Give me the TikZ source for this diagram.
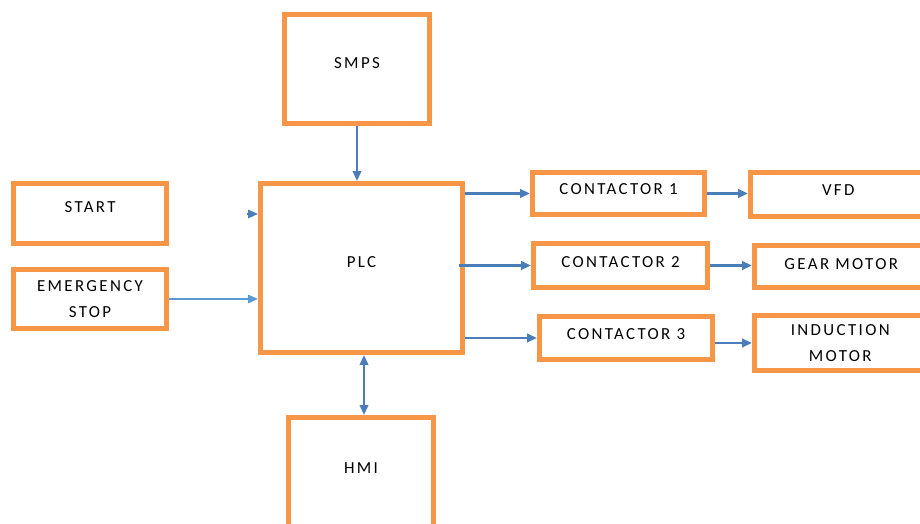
\documentclass[tikz,border=0pt]{standalone}
\usepackage{fontspec}
\setmainfont[LetterSpace=14]{Carlito}
\usetikzlibrary{arrows.meta}

\definecolor{boxorange}{HTML}{F79646}
\definecolor{linkblue}{HTML}{4A7EBB}
\definecolor{lightlink}{HTML}{5B9BD5}

\tikzset{
  block/.style={draw=boxorange, line width=3.6pt, fill=white, align=center,
    font=\fontsize{12}{18}\selectfont},
  raised/.style={text depth=#1},
  raised/.default=9pt,
  link/.style={draw=linkblue, line width=2pt, -{Triangle[length=7pt,width=6pt]}},
}

\begin{document}
\begin{tikzpicture}[x=0.025cm, y=-0.025cm]
  \useasboundingbox (0,0) rectangle (920,524);
  \clip (0,0) rectangle (920,524);

  \node[block, raised, minimum width=3.625cm, minimum height=2.725cm] (smps) at (357,69) {SMPS};
  \node[block, raised, minimum width=3.825cm, minimum height=1.5cm] (start) at (90,213.5) {START};
  \node[block, minimum width=3.825cm, minimum height=1.475cm] (estop) at (90,299) {EMERGENCY\\STOP};
  \node[block, raised, minimum width=5.05cm, minimum height=4.225cm] (plc) at (361.5,268) {PLC};
  \node[block, raised, minimum width=3.625cm, minimum height=2.825cm] (hmi) at (361,474) {HMI};

  \node[block, raised=6pt, minimum width=4.3cm, minimum height=1.05cm] (c1) at (618.5,193.5) {CONTACTOR 1};
  \node[block, raised=5pt, minimum width=4.35cm, minimum height=1.1cm] (c2) at (620.5,265.5) {CONTACTOR 2};
  \node[block, raised=5pt, minimum width=4.325cm, minimum height=1.075cm] (c3) at (626,338) {CONTACTOR 3};

  \node[block, raised=6pt, minimum width=4.3875cm, minimum height=1.1cm] (vfd) at (838.25,194.5) {VFD};
  \node[block, raised=4pt, minimum width=4.3375cm, minimum height=1.05cm] (gear) at (841.25,266.5) {GEAR MOTOR};
  \node[block, minimum width=4.2875cm, minimum height=1.375cm] (ind) at (840.25,343) {INDUCTION\\MOTOR};

  % supply and operator panel
  \draw[link, line width=1.4pt] (smps.south) -- (smps.south |- plc.north);
  \draw[link, line width=1.4pt, {Triangle[length=7pt,width=6pt]}-{Triangle[length=7pt,width=6pt]}]
    (plc.south -| 364,0) -- (hmi.north -| 364,0);

  % inputs
  \coordinate (startin) at (247,214);
  \draw[link, line width=1pt] (startin) -- (startin -| plc.west);
  \draw[link, draw=lightlink, line width=1pt] (estop.east) -- (estop.east -| plc.west);

  % outputs
  \draw[link] (plc.east |- c1.west) -- (c1.west);
  \draw[link] ([xshift=-4pt]plc.east |- c2.west) -- (c2.west);
  \draw[link] (plc.east |- c3.west) -- (c3.west);
  \draw[link] (c1.east) -- (c1.east -| vfd.west);
  \draw[link] (c2.east) -- (c2.east -| gear.west);
  \draw[link] (c3.east |- ind.west) -- (ind.west);
\end{tikzpicture}
\end{document}
